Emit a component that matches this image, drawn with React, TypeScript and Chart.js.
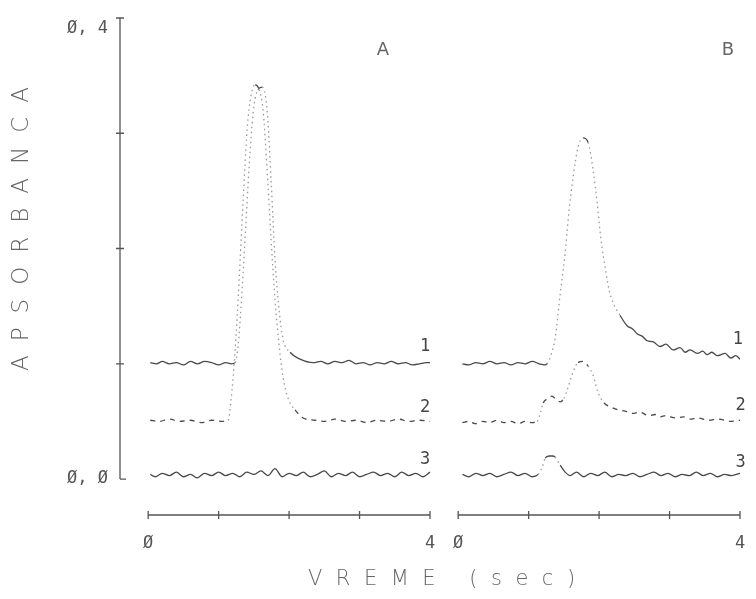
import React, { useEffect, useRef } from 'react';
import { Chart, registerables } from 'chart.js';

Chart.register(...registerables);

// ---------- axes / ticks ----------
const X_MIN = -0.4;
const X_MAX = 8.4;
const PANEL_B_SHIFT = 4.4; // panel B drawn to the right of panel A on one linear scale
const Y_MIN = -0.0312;
const Y_MAX = 0.4;
const X_TICK_VALUES = [0, 4, 4.4, 8.4];
const X_TICK_LABELS = ['Ø', '4', 'Ø', '4'];
const Y_TICK_VALUES = [0, 0.4];
const Y_TICK_LABELS = ['Ø, Ø', 'Ø, 4'];
const Y_MINOR_TICKS = [0.1, 0.2, 0.3];
const PANEL_TICKS = [0, 1, 2, 3, 4];

// ---------- series: [time (s), absorbance] ----------
const curveA1: [number, number][] = [
  [0.03, 0.101], [0.12, 0.100], [0.2, 0.102], [0.3, 0.100], [0.4, 0.101], [0.5, 0.099],
  [0.6, 0.102], [0.7, 0.100], [0.8, 0.102], [0.9, 0.101], [1.0, 0.099], [1.1, 0.101],
  [1.18, 0.100], [1.234, 0.101], [1.277, 0.116], [1.333, 0.164], [1.39, 0.225],
  [1.447, 0.285], [1.504, 0.325], [1.56, 0.338], [1.617, 0.340], [1.688, 0.320],
  [1.745, 0.259], [1.801, 0.190], [1.858, 0.147], [1.915, 0.121], [2.014, 0.110],
  [2.156, 0.104], [2.34, 0.101], [2.45, 0.102], [2.55, 0.100], [2.65, 0.102],
  [2.75, 0.101], [2.85, 0.103], [2.95, 0.100], [3.05, 0.101], [3.15, 0.099],
  [3.25, 0.101], [3.35, 0.100], [3.45, 0.102], [3.55, 0.100], [3.65, 0.101],
  [3.75, 0.099], [3.85, 0.100], [3.95, 0.101], [4.0, 0.101],
];

const curveA2: [number, number][] = [
  [0.03, 0.051], [0.15, 0.050], [0.3, 0.052], [0.45, 0.050], [0.6, 0.051], [0.75, 0.049],
  [0.9, 0.051], [1.05, 0.050], [1.135, 0.051], [1.177, 0.069], [1.234, 0.112],
  [1.291, 0.173], [1.348, 0.242], [1.404, 0.303], [1.461, 0.333], [1.518, 0.342],
  [1.574, 0.338], [1.631, 0.320], [1.688, 0.268], [1.745, 0.207], [1.801, 0.155],
  [1.858, 0.116], [1.915, 0.088], [1.986, 0.070], [2.085, 0.060], [2.199, 0.053],
  [2.369, 0.051], [2.5, 0.050], [2.65, 0.052], [2.8, 0.050], [2.95, 0.051],
  [3.1, 0.049], [3.25, 0.051], [3.4, 0.050], [3.55, 0.052], [3.7, 0.050],
  [3.85, 0.051], [4.0, 0.050],
];

const curveA3: [number, number][] = [
  [0.03, 0.004], [0.1, 0.002], [0.2, 0.005], [0.3, 0.003], [0.4, 0.006], [0.5, 0.002],
  [0.6, 0.004], [0.7, 0.001], [0.8, 0.005], [0.9, 0.003], [1.0, 0.006], [1.1, 0.003],
  [1.2, 0.005], [1.3, 0.002], [1.4, 0.006], [1.5, 0.004], [1.6, 0.007], [1.7, 0.003],
  [1.8, 0.009], [1.9, 0.002], [2.0, 0.005], [2.1, 0.003], [2.2, 0.006], [2.3, 0.002],
  [2.4, 0.004], [2.5, 0.007], [2.6, 0.002], [2.7, 0.005], [2.8, 0.003], [2.9, 0.006],
  [3.0, 0.002], [3.1, 0.004], [3.2, 0.006], [3.3, 0.003], [3.4, 0.005], [3.5, 0.002],
  [3.6, 0.006], [3.7, 0.003], [3.8, 0.005], [3.9, 0.002], [4.0, 0.006],
];

const curveB1: [number, number][] = [
  [0.06, 0.100], [0.15, 0.099], [0.25, 0.101], [0.35, 0.100], [0.45, 0.102], [0.55, 0.100],
  [0.65, 0.101], [0.75, 0.099], [0.85, 0.101], [0.95, 0.100], [1.05, 0.102], [1.15, 0.100],
  [1.22, 0.099], [1.262, 0.100], [1.32, 0.108], [1.376, 0.122], [1.447, 0.160],
  [1.518, 0.196], [1.574, 0.233], [1.631, 0.262], [1.702, 0.288], [1.773, 0.296],
  [1.844, 0.292], [1.915, 0.268], [1.972, 0.240], [2.028, 0.207], [2.085, 0.184],
  [2.142, 0.164], [2.199, 0.153], [2.298, 0.142], [2.397, 0.133], [2.48, 0.130],
  [2.539, 0.126], [2.61, 0.124], [2.681, 0.120], [2.77, 0.119], [2.865, 0.115],
  [2.95, 0.117], [3.05, 0.112], [3.15, 0.114], [3.22, 0.110], [3.291, 0.112],
  [3.4, 0.109], [3.47, 0.111], [3.532, 0.108], [3.6, 0.110], [3.68, 0.107],
  [3.787, 0.109], [3.87, 0.105], [3.94, 0.107], [4.0, 0.104],
];

const curveB2: [number, number][] = [
  [0.06, 0.049], [0.15, 0.050], [0.25, 0.048], [0.35, 0.050], [0.45, 0.049], [0.55, 0.051],
  [0.65, 0.049], [0.75, 0.050], [0.85, 0.048], [0.95, 0.050], [1.05, 0.049], [1.121, 0.050],
  [1.17, 0.058], [1.206, 0.066], [1.277, 0.070], [1.33, 0.072], [1.39, 0.069],
  [1.45, 0.067], [1.5, 0.070], [1.546, 0.077], [1.631, 0.093], [1.702, 0.101],
  [1.773, 0.102], [1.844, 0.098], [1.915, 0.090], [1.986, 0.075], [2.071, 0.066],
  [2.184, 0.062], [2.27, 0.060], [2.369, 0.059], [2.47, 0.057], [2.582, 0.058],
  [2.7, 0.055], [2.8, 0.056], [2.865, 0.054], [2.95, 0.055], [3.08, 0.053],
  [3.2, 0.054], [3.291, 0.052], [3.4, 0.053], [3.55, 0.051], [3.7, 0.052],
  [3.85, 0.050], [4.0, 0.051],
];

const curveB3: [number, number][] = [
  [0.06, 0.004], [0.15, 0.002], [0.25, 0.005], [0.35, 0.003], [0.45, 0.005], [0.55, 0.002],
  [0.65, 0.004], [0.75, 0.006], [0.85, 0.003], [0.95, 0.005], [1.05, 0.002], [1.135, 0.004],
  [1.19, 0.010], [1.234, 0.018], [1.291, 0.020], [1.34, 0.020], [1.376, 0.019],
  [1.447, 0.012], [1.518, 0.006], [1.589, 0.003], [1.68, 0.006], [1.78, 0.002],
  [1.88, 0.005], [1.98, 0.003], [2.08, 0.006], [2.18, 0.002], [2.28, 0.004],
  [2.38, 0.003], [2.48, 0.005], [2.58, 0.002], [2.68, 0.004], [2.78, 0.006],
  [2.88, 0.003], [2.98, 0.005], [3.08, 0.002], [3.18, 0.004], [3.28, 0.003],
  [3.38, 0.006], [3.48, 0.003], [3.58, 0.005], [3.68, 0.002], [3.78, 0.004],
  [3.88, 0.003], [4.0, 0.005],
];

// ---------- labels ----------
const CURVE_LABELS = ['1', '2', '3'];
const CURVE_LABEL_POS_A: [number, number][] = [[3.93, 0.1145], [3.93, 0.0616], [3.93, 0.0165]];
const CURVE_LABEL_POS_B: [number, number][] = [[3.97, 0.1206], [4.01, 0.064], [4.01, 0.0147]];
const PANEL_LABELS = ['A', 'B'];
const PANEL_LABEL_POS: [number, number][] = [[3.33, 0.372], [3.83, 0.372]];
const Y_TITLE = 'APSORBANCA';
const X_TITLE = 'VREME (sec)';

const INK = '#4a4a4a';
const FAINT = '#9a9a9a';
const TEXT = '#555';
const MONO = '"DejaVu Sans Mono", monospace';
const SANS = '"DejaVu Sans", sans-serif';

function steep(c: any): boolean {
  return Math.abs(c.p1.y - c.p0.y) > 1.6 * Math.abs(c.p1.x - c.p0.x);
}

function makeDataset(pts: [number, number][], shift: number, dash: number[]) {
  return {
    data: pts.map(([t, v]) => ({ x: t + shift, y: v })),
    borderColor: INK,
    borderWidth: 1.3,
    borderDash: dash,
    pointRadius: 0,
    fill: false,
    cubicInterpolationMode: 'monotone' as const,
    segment: {
      borderDash: (c: any) => (steep(c) ? [1.5, 3.5] : undefined),
      borderColor: (c: any) => (steep(c) ? FAINT : undefined),
    },
  };
}

const decorPlugin = {
  id: 'decor',
  afterDraw(chart: any) {
    const { ctx, chartArea } = chart;
    const x = chart.scales.x;
    const y = chart.scales.y;
    ctx.save();
    ctx.strokeStyle = '#555';
    ctx.lineWidth = 1.3;
    ctx.setLineDash([]);

    // y axis
    const ax = x.getPixelForValue(X_MIN);
    const yTop = y.getPixelForValue(Y_MAX);
    const y0 = y.getPixelForValue(0);
    ctx.beginPath();
    ctx.moveTo(ax, yTop);
    ctx.lineTo(ax, y0);
    ctx.moveTo(ax - 4, yTop);
    ctx.lineTo(ax + 4, yTop);
    ctx.moveTo(ax, y0);
    ctx.lineTo(ax + 6, y0);
    Y_MINOR_TICKS.forEach((v) => {
      const py = y.getPixelForValue(v);
      ctx.moveTo(ax - 4, py);
      ctx.lineTo(ax + 4, py);
    });
    ctx.stroke();

    // x axes (one per panel)
    const by = chartArea.bottom;
    [0, PANEL_B_SHIFT].forEach((shift) => {
      ctx.beginPath();
      ctx.moveTo(x.getPixelForValue(shift + PANEL_TICKS[0]), by);
      ctx.lineTo(x.getPixelForValue(shift + PANEL_TICKS[PANEL_TICKS.length - 1]), by);
      PANEL_TICKS.forEach((t) => {
        const px = x.getPixelForValue(shift + t);
        ctx.moveTo(px, by - 4);
        ctx.lineTo(px, by + 4);
      });
      ctx.stroke();
    });

    // curve numbers
    ctx.fillStyle = '#444';
    ctx.font = `17px ${MONO}`;
    ctx.textAlign = 'center';
    ctx.textBaseline = 'middle';
    CURVE_LABELS.forEach((lab, i) => {
      const [ta, va] = CURVE_LABEL_POS_A[i];
      ctx.fillText(lab, x.getPixelForValue(ta), y.getPixelForValue(va));
      const [tb, vb] = CURVE_LABEL_POS_B[i];
      ctx.fillText(lab, x.getPixelForValue(tb + PANEL_B_SHIFT), y.getPixelForValue(vb));
    });

    // panel letters
    ctx.fillStyle = '#666';
    ctx.font = `18px ${SANS}`;
    PANEL_LABELS.forEach((lab, i) => {
      const [t, v] = PANEL_LABEL_POS[i];
      ctx.fillText(lab, x.getPixelForValue(t + i * PANEL_B_SHIFT), y.getPixelForValue(v));
    });

    // axis titles (spaced plotter lettering)
    ctx.fillStyle = '#666';
    ctx.textAlign = 'left';
    ctx.font = `300 23px ${SANS}`;
    (ctx as any).letterSpacing = '14px';
    ctx.save();
    ctx.translate(22, 371);
    ctx.rotate(-Math.PI / 2);
    ctx.fillText(Y_TITLE, 0, 0);
    ctx.restore();

    ctx.font = `300 21px ${SANS}`;
    (ctx as any).letterSpacing = '13.5px';
    ctx.fillText(X_TITLE, 308, 580);
    ctx.restore();
  },
};

export default function App() {
  const canvasRef = useRef<HTMLCanvasElement | null>(null);

  useEffect(() => {
    const canvas = canvasRef.current;
    if (!canvas) return;
    const chart = new Chart(canvas, {
      type: 'line',
      data: {
        datasets: [
          makeDataset(curveA1, 0, []),
          makeDataset(curveA2, 0, [5, 5]),
          makeDataset(curveA3, 0, []),
          makeDataset(curveB1, PANEL_B_SHIFT, []),
          makeDataset(curveB2, PANEL_B_SHIFT, [5, 5]),
          makeDataset(curveB3, PANEL_B_SHIFT, []),
        ] as any,
      },
      options: {
        responsive: false,
        animation: false,
        devicePixelRatio: 1,
        events: [],
        layout: { padding: { left: 0, top: 18, right: 16, bottom: 44 } },
        plugins: { legend: { display: false }, tooltip: { enabled: false }, title: { display: false } },
        scales: {
          x: {
            type: 'linear',
            min: X_MIN,
            max: X_MAX,
            grid: { display: false, drawTicks: false },
            border: { display: false },
            afterBuildTicks: (s: any) => {
              s.ticks = X_TICK_VALUES.map((v) => ({ value: v }));
            },
            afterFit: (s: any) => {
              s.height = 40;
              s.paddingLeft = 0;
              s.paddingRight = 0;
            },
            ticks: {
              autoSkip: false,
              maxRotation: 0,
              padding: 18,
              color: TEXT,
              font: { family: MONO, size: 17 },
              callback: (_v: any, i: number) => X_TICK_LABELS[i],
            },
          },
          y: {
            type: 'linear',
            min: Y_MIN,
            max: Y_MAX,
            grid: { display: false, drawTicks: false },
            border: { display: false },
            afterBuildTicks: (s: any) => {
              s.ticks = Y_TICK_VALUES.map((v) => ({ value: v }));
            },
            afterFit: (s: any) => {
              s.width = 120;
              s.paddingTop = 0;
              s.paddingBottom = 0;
            },
            ticks: {
              autoSkip: false,
              padding: 12,
              color: TEXT,
              font: { family: MONO, size: 17 },
              callback: (_v: any, i: number) => (i === 0 ? Y_TICK_LABELS[0] : ['', Y_TICK_LABELS[1]]),
            },
          },
        },
      },
      plugins: [decorPlugin],
    });
    return () => chart.destroy();
  }, []);

  return (
    <div style={{ position: 'fixed', left: 0, top: 0, width: 756, height: 599, background: '#fff' }}>
      <canvas ref={canvasRef} width={756} height={599} style={{ display: 'block', width: 756, height: 599 }} />
    </div>
  );
}
